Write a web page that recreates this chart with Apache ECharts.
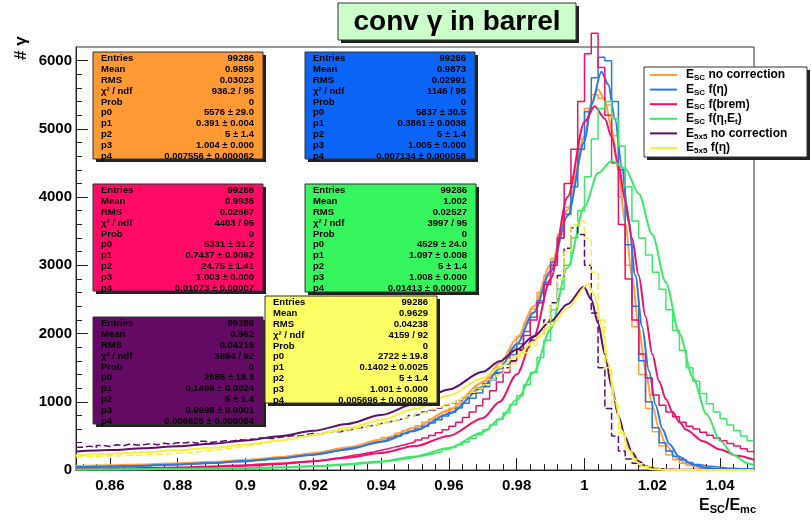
<!DOCTYPE html>
<html>
<head>
<meta charset="utf-8">
<script src="https://cdn.jsdelivr.net/npm/echarts@6/dist/echarts.min.js"></script>
<style>
html, body { margin: 0; padding: 0; background: #fff; }
#chart { width: 811px; height: 521px; }
</style>
</head>
<body>
<div id="chart"></div>
<script>
// histogram binning: 100 bins of 0.002 from 0.85
var binLo = 0.85, binW = 0.002;

var xTickLabels = [0.86, 0.88, 0.9, 0.92, 0.94, 0.96, 0.98, 1, 1.02, 1.04];
var yTickLabels = [0, 1000, 2000, 3000, 4000, 5000, 6000];

// E_SC no correction
var histOrange = [
  52, 48, 61, 55, 58, 66, 60, 72, 68, 75,
  70, 82, 78, 88, 95, 90, 104, 99, 112, 118,
  115, 128, 135, 130, 146, 158, 152, 170, 182, 190,
  198, 212, 220, 238, 245, 262, 280, 296, 310, 335,
  350, 372, 398, 420, 445, 478, 505, 540, 575, 610,
  650, 700, 745, 790, 850, 905, 975, 1050, 1120, 1210,
  1300, 1400, 1510, 1640, 1790, 1960, 2150, 2360, 2600, 2850,
  3100, 3450, 3850, 4300, 4850, 5300, 5500, 5450, 5350, 4900,
  4000, 3000, 2100, 1400, 900, 560, 350, 220, 150, 100,
  70, 50, 35, 25, 20, 15, 12, 10, 8, 6
];
// E_SC f(eta)
var histBlue = [
  45, 40, 50, 47, 53, 49, 58, 55, 62, 60,
  66, 70, 68, 76, 80, 85, 83, 92, 98, 104,
  100, 112, 118, 125, 122, 136, 145, 152, 160, 172,
  180, 188, 200, 215, 225, 240, 255, 270, 292, 310,
  325, 345, 370, 392, 415, 440, 470, 500, 535, 565,
  600, 640, 690, 735, 790, 845, 910, 980, 1050, 1130,
  1220, 1320, 1430, 1550, 1690, 1850, 2030, 2240, 2480, 2750,
  3050, 3400, 3750, 4150, 4700, 5250, 5750, 6050, 6000, 5400,
  4400, 3300, 2400, 1600, 1000, 620, 400, 280, 200, 150,
  110, 80, 60, 50, 40, 30, 25, 20, 18, 15
];
// E_SC f(brem)
var histPink = [
  8, 12, 10, 14, 12, 16, 15, 18, 20, 17,
  22, 25, 24, 28, 30, 27, 34, 38, 36, 42,
  45, 50, 48, 56, 60, 66, 64, 72, 80, 85,
  92, 100, 110, 118, 130, 140, 152, 168, 180, 198,
  215, 232, 250, 268, 288, 310, 335, 360, 385, 410,
  440, 470, 505, 545, 590, 640, 700, 770, 850, 940,
  1040, 1160, 1290, 1430, 1590, 1770, 1970, 2200, 2450, 2720,
  3000, 3400, 4200, 4700, 5400, 6100, 6400, 5900, 5200, 4500,
  3600, 2800, 2200, 1700, 1350, 1100, 950, 850, 780, 700,
  640, 600, 555, 510, 470, 430, 390, 350, 310, 270
];
// E_SC f(eta, Et)
var histGreen = [
  5, 7, 6, 8, 7, 9, 8, 10, 9, 11,
  10, 12, 13, 12, 14, 15, 16, 15, 18, 19,
  20, 22, 21, 24, 26, 28, 27, 31, 33, 36,
  38, 42, 45, 48, 52, 56, 60, 66, 70, 76,
  86, 92, 98, 106, 118, 128, 140, 155, 170, 188,
  205, 225, 245, 270, 300, 330, 365, 410, 460, 520,
  590, 660, 744, 840, 960, 1090, 1250, 1430, 1650, 1900,
  2350, 2650, 3000, 3400, 3800, 4300, 4850, 5300, 5400, 5150,
  4750, 4150, 3650, 3400, 3150, 2900, 2650, 2350, 2050, 1750,
  1500, 1300, 1120, 970, 850, 750, 660, 580, 500, 430
];
// E_5x5 no correction
var histPurple = [
  335, 350, 330, 360, 345, 370, 355, 380, 365, 372,
  385, 370, 392, 380, 400, 395, 410, 388, 420, 405,
  415, 430, 420, 445, 435, 455, 440, 470, 460, 480,
  490, 505, 495, 520, 535, 525, 550, 565, 560, 585,
  600, 620, 640, 655, 680, 700, 720, 745, 770, 800,
  820, 850, 880, 910, 950, 985, 1030, 1080, 1130, 1190,
  1260, 1330, 1410, 1500, 1600, 1750, 1800, 1900, 2000, 2200,
  2450, 2850, 3250, 3550, 3450, 3000, 2300, 1500, 900, 500,
  280, 160, 100, 60, 35, 20, 12, 8, 5, 3,
  2, 2, 1, 1, 1, 0, 1, 0, 0, 0
];
// E_5x5 f(eta)
var histYellow = [
  195, 200, 198, 205, 210, 206, 212, 218, 215, 222,
  226, 232, 230, 240, 246, 252, 260, 268, 276, 286,
  296, 308, 320, 334, 348, 362, 378, 394, 410, 428,
  446, 464, 482, 500, 518, 530, 548, 562, 575, 590,
  605, 622, 640, 658, 678, 700, 722, 746, 772, 800,
  830, 858, 890, 920, 955, 990, 1035, 1085, 1140, 1195,
  1255, 1325, 1400, 1475, 1560, 1660, 1720, 1820, 1960, 2150,
  2400, 2800, 3200, 3600, 3650, 3400, 2900, 2200, 1500, 950,
  550, 300, 160, 90, 50, 25, 12, 6, 3, 2,
  1, 1, 0, 1, 0, 0, 0, 0, 0, 0
];

// fitted curves as [x, count]
var fitOrange = [[0.85,60],[0.86,70],[0.87,82],[0.88,98],[0.89,120],[0.90,146],[0.91,187],[0.92,246],[0.93,328],
  [0.94,446],[0.95,619],[0.96,880],[0.97,1282],[0.975,1565],[0.98,1925],[0.985,2398],[0.99,3007],[0.995,3812],
  [1.0,4890],[1.002,5385],[1.004,5576],[1.006,5420],[1.008,5000],[1.010,4380],[1.012,3620],[1.014,2850],
  [1.016,2100],[1.018,1450],[1.020,950],[1.022,600],[1.024,370],[1.027,180],[1.031,70],[1.035,25],[1.04,8],[1.05,1]];
var fitBlue = [[0.85,42],[0.86,51],[0.87,64],[0.88,80],[0.89,102],[0.90,131],[0.91,170],[0.92,225],[0.93,302],
  [0.94,413],[0.95,577],[0.96,825],[0.97,1213],[0.975,1488],[0.98,1847],[0.985,2308],[0.99,2914],[0.995,3722],
  [1.0,4814],[1.002,5346],[1.005,5837],[1.007,5650],[1.009,5150],[1.011,4450],[1.013,3650],[1.015,2850],
  [1.017,2100],[1.019,1450],[1.021,950],[1.023,600],[1.025,380],[1.028,190],[1.032,80],[1.036,30],[1.04,10],[1.05,2]];
var fitPink = [[0.85,15],[0.86,20],[0.87,28],[0.88,38],[0.89,52],[0.90,70],[0.91,95],[0.92,130],[0.93,180],
  [0.94,250],[0.95,350],[0.96,500],[0.97,760],[0.975,1000],[0.98,1400],[0.985,1950],[0.99,2800],[0.995,4000],
  [1.0,5100],[1.003,5331],[1.006,5150],[1.008,4880],[1.010,4480],[1.012,3950],[1.014,3400],[1.016,2850],
  [1.018,2250],[1.020,1700],[1.022,1300],[1.024,1040],[1.026,850],[1.028,700],[1.030,590],[1.035,420],
  [1.040,300],[1.045,210],[1.05,150]];
var fitGreen = [[0.85,7],[0.86,9],[0.87,12],[0.88,16],[0.89,21],[0.90,29],[0.91,40],[0.92,57],[0.93,84],
  [0.94,126],[0.95,198],[0.96,321],[0.97,555],[0.975,744],[0.98,1025],[0.985,1429],[0.99,2062],[0.995,2967],
  [1.0,3859],[1.004,4352],[1.008,4529],[1.012,4420],[1.016,4050],[1.020,3450],[1.024,2750],[1.028,2000],
  [1.032,1350],[1.036,820],[1.040,430],[1.044,220],[1.048,100],[1.05,70]];
var fitPurple = [[0.85,270],[0.86,292],[0.87,318],[0.88,348],[0.89,385],[0.90,432],[0.91,495],[0.92,575],
  [0.93,675],[0.94,805],[0.95,970],[0.96,1180],[0.97,1440],[0.975,1595],[0.98,1765],[0.985,1960],[0.99,2180],
  [0.995,2430],[0.9998,2685],[1.002,2500],[1.004,2150],[1.006,1700],[1.008,1220],[1.010,800],[1.012,480],
  [1.014,260],[1.016,130],[1.018,60],[1.020,25],[1.025,3],[1.05,0]];
var fitYellow = [[0.85,215],[0.86,236],[0.87,260],[0.88,290],[0.89,326],[0.90,372],[0.91,432],[0.92,510],
  [0.93,611],[0.94,736],[0.95,894],[0.96,1092],[0.97,1348],[0.975,1502],[0.98,1677],[0.985,1878],[0.99,2110],
  [0.995,2376],[1.001,2722],[1.003,2560],[1.005,2130],[1.007,1569],[1.009,1021],[1.011,580],[1.013,296],
  [1.015,133],[1.017,52],[1.02,10],[1.025,0],[1.05,0]];

// stat box texts
var statLabels = ['Entries', 'Mean', 'RMS', 'χ² / ndf', 'Prob', 'p0', 'p1', 'p2', 'p3', 'p4'];
var statOrange = ['99286', '0.9859', '0.03023', '936.2 / 95', '0', '5576 ± 29.0', '0.391 ± 0.004', '5 ± 1.4', '1.004 ± 0.000', '0.007556 ± 0.000062'];
var statBlue = ['99286', '0.9873', '0.02991', '1146 / 95', '0', '5837 ± 30.5', '0.3861 ± 0.0038', '5 ± 1.4', '1.005 ± 0.000', '0.007134 ± 0.000058'];
var statPink = ['99286', '0.9936', '0.02687', '4403 / 95', '0', '5331 ± 31.2', '0.7437 ± 0.0062', '24.75 ± 1.41', '1.003 ± 0.000', '0.01073 ± 0.00007'];
var statGreen = ['99286', '1.002', '0.02527', '3997 / 95', '0', '4529 ± 24.0', '1.097 ± 0.008', '5 ± 1.4', '1.008 ± 0.000', '0.01413 ± 0.00007'];
var statPurple = ['99286', '0.962', '0.04216', '3894 / 92', '0', '2685 ± 18.3', '0.1469 ± 0.0024', '5 ± 1.4', '0.9998 ± 0.0001', '0.006626 ± 0.000084'];
var statYellow = ['99286', '0.9629', '0.04238', '4159 / 92', '0', '2722 ± 19.8', '0.1402 ± 0.0025', '5 ± 1.4', '1.001 ± 0.000', '0.005696 ± 0.000089'];

var legendTexts = [
  '{m|E}{s|SC}{m| no correction}',
  '{m|E}{s|SC}{m| f(η)}',
  '{m|E}{s|SC}{m| f(brem)}',
  '{m|E}{s|SC}{m| f(η,E}{s|t}{m|)}',
  '{m|E}{s|5x5}{m| no correction}',
  '{m|E}{s|5x5}{m| f(η)}'
];

var FONT = '"Liberation Sans", Arial, Helvetica, sans-serif';

// colours: [line, box fill]
var cOrange = ['#ffa040', '#ff9933'];
var cBlue = ['#2a78e4', '#0a64f5'];
var cPink = ['#f0106a', '#ff0a66'];
var cGreen = ['#3ce868', '#36f55e'];
var cPurple = ['#5c0f6e', '#640a64'];
var cYellow = ['#f4f040', '#ffff66'];

function histData(bins) {
  var d = bins.map(function (v, i) { return [binLo + i * binW, v]; });
  d.push([binLo + bins.length * binW, bins[bins.length - 1]]);
  return d;
}

function histSeries(bins, color, dashed) {
  return {
    type: 'line', step: 'end', data: histData(bins), showSymbol: false, clip: false,
    silent: true, animation: false,
    lineStyle: { color: color, width: 1.5, type: dashed ? [7, 3] : 'solid' }
  };
}
function fitSeries(data, color) {
  return {
    type: 'line', data: data, smooth: 0.3, smoothMonotone: 'x', showSymbol: false,
    silent: true, animation: false,
    lineStyle: { color: color, width: 2 }
  };
}

var series = [
  histSeries(histOrange, cOrange[0]), fitSeries(fitOrange, cOrange[0]),
  histSeries(histBlue, cBlue[0]), fitSeries(fitBlue, cBlue[0]),
  histSeries(histPink, cPink[0]), fitSeries(fitPink, cPink[0]),
  histSeries(histGreen, cGreen[0]), fitSeries(fitGreen, cGreen[0]),
  histSeries(histPurple, cPurple[0], true), fitSeries(fitPurple, cPurple[0]),
  histSeries(histYellow, cYellow[0], true), fitSeries(fitYellow, cYellow[0])
];

// minor tick positions
var xMinor = [];
for (var k = 0; k < 50; k++) {
  var v = +(0.852 + 0.004 * k).toFixed(3);
  if (Math.abs(v * 50 - Math.round(v * 50)) > 1e-6) xMinor.push(v);
}
var yMinor = [];
for (var m = 200; m <= 6000; m += 200) if (m % 1000) yMinor.push(m);

// graphic pieces
var elements = [];
function shadowBox(x, y, w, h, fill) {
  elements.push({ type: 'rect', z: 100, shape: { x: x + 3, y: y + 3, width: w, height: h }, style: { fill: '#222' } });
  elements.push({ type: 'rect', z: 101, shape: { x: x, y: y, width: w, height: h }, style: { fill: fill, stroke: '#333', lineWidth: 1 } });
}
function statBox(x, y, w, h, fill, vals) {
  shadowBox(x, y, w, h, fill);
  for (var r = 0; r < statLabels.length; r++) {
    var ty = y + 6.5 + r * 10.85;
    elements.push({ type: 'text', z: 102, style: { text: statLabels[r], x: x + 8, y: ty, fill: '#000',
      font: 'bold 9.5px ' + FONT, textAlign: 'left', textVerticalAlign: 'middle', align: 'left', verticalAlign: 'middle' } });
    elements.push({ type: 'text', z: 102, style: { text: vals[r], x: x + w - 9, y: ty, fill: '#000',
      font: 'bold 9.5px ' + FONT, textAlign: 'right', textVerticalAlign: 'middle', align: 'right', verticalAlign: 'middle' } });
  }
}
statBox(93, 52, 170, 107, cOrange[1], statOrange);
statBox(305, 52, 170, 107, cBlue[1], statBlue);
statBox(93, 184, 170, 107, cPink[1], statPink);
statBox(305, 184, 171, 108, cGreen[1], statGreen);
statBox(93, 317, 170, 107, cPurple[1], statPurple);
statBox(265, 296, 172, 107, cYellow[1], statYellow);

// title
shadowBox(338, 3, 238, 37, '#ccffcc');
elements.push({ type: 'text', z: 102, style: { text: 'conv γ in barrel', x: 457, y: 22, fill: '#000',
  font: 'bold 28px ' + FONT, textAlign: 'center', textVerticalAlign: 'middle', align: 'center', verticalAlign: 'middle' } });

// legend
shadowBox(644, 67, 163, 90, '#ffffff');
var legColors = [cOrange[0], cBlue[0], cPink[0], cGreen[0], cPurple[0], cYellow[0]];
for (var j = 0; j < legendTexts.length; j++) {
  var ly = 75 + j * 14.6;
  elements.push({ type: 'line', z: 102, shape: { x1: 650, y1: ly, x2: 677, y2: ly }, style: { stroke: legColors[j], lineWidth: 2 } });
  elements.push({ type: 'text', z: 102, style: { text: legendTexts[j], x: 686, y: ly, fill: '#000',
    textAlign: 'left', textVerticalAlign: 'middle', align: 'left', verticalAlign: 'middle',
    rich: {
      m: { font: 'bold 12px ' + FONT, fill: '#000', lineHeight: 14, verticalAlign: 'middle' },
      s: { font: 'bold 8px ' + FONT, fill: '#000', lineHeight: 9, verticalAlign: 'bottom' }
    } } });
}

// axis titles
elements.push({ type: 'text', z: 102, x: 21, y: 60, rotation: Math.PI / 2, style: { text: '# γ', fill: '#000',
  font: 'bold 17px ' + FONT, textAlign: 'left', textVerticalAlign: 'middle', align: 'left', verticalAlign: 'middle' } });
elements.push({ type: 'text', z: 102, style: { text: '{m|E}{s|SC}{m|/E}{s|mc}', x: 756, y: 506, fill: '#000',
  textAlign: 'right', textVerticalAlign: 'middle', align: 'right', verticalAlign: 'middle',
  rich: {
    m: { font: 'bold 16px ' + FONT, fill: '#000', lineHeight: 18, verticalAlign: 'middle' },
    s: { font: 'bold 11px ' + FONT, fill: '#000', lineHeight: 11, verticalAlign: 'bottom' }
  } } });

var labelFont = { fontFamily: FONT, fontWeight: 'bold', fontSize: 15, color: '#000' };

var option = {
  backgroundColor: '#fff',
  animation: false,
  grid: { left: 76, top: 47, right: 57, bottom: 51, show: true, borderColor: '#333', borderWidth: 1, backgroundColor: 'transparent' },
  xAxis: [
    {
      type: 'value', min: 0.85, max: 1.05, position: 'bottom',
      axisLine: { show: true, lineStyle: { color: '#222', width: 1 } },
      axisTick: { show: true, inside: true, length: 12, customValues: xTickLabels, lineStyle: { color: '#222' } },
      axisLabel: Object.assign({ customValues: xTickLabels, margin: 8,
        formatter: function (v) { return String(+(+v).toFixed(2)); } }, labelFont),
      splitLine: { show: false }
    },
    {
      type: 'value', min: 0.85, max: 1.05, position: 'bottom',
      axisLine: { show: false },
      axisTick: { show: true, inside: true, length: 6, customValues: xMinor, lineStyle: { color: '#222' } },
      axisLabel: { show: false }, splitLine: { show: false }
    }
  ],
  yAxis: [
    {
      type: 'value', min: 0, max: 6200, position: 'left',
      axisLine: { show: true, lineStyle: { color: '#222', width: 1 } },
      axisTick: { show: true, inside: true, length: 12, customValues: yTickLabels, lineStyle: { color: '#222' } },
      axisLabel: Object.assign({ customValues: yTickLabels, margin: 4,
        formatter: function (v) { return String(Math.round(v)); } }, labelFont),
      splitLine: { show: false }
    },
    {
      type: 'value', min: 0, max: 6200, position: 'left',
      axisLine: { show: false },
      axisTick: { show: true, inside: true, length: 6, customValues: yMinor, lineStyle: { color: '#222' } },
      axisLabel: { show: false }, splitLine: { show: false }
    }
  ],
  series: series,
  graphic: { elements: elements }
};

var chart = echarts.init(document.getElementById('chart'));
chart.setOption(option);
</script>
</body>
</html>
